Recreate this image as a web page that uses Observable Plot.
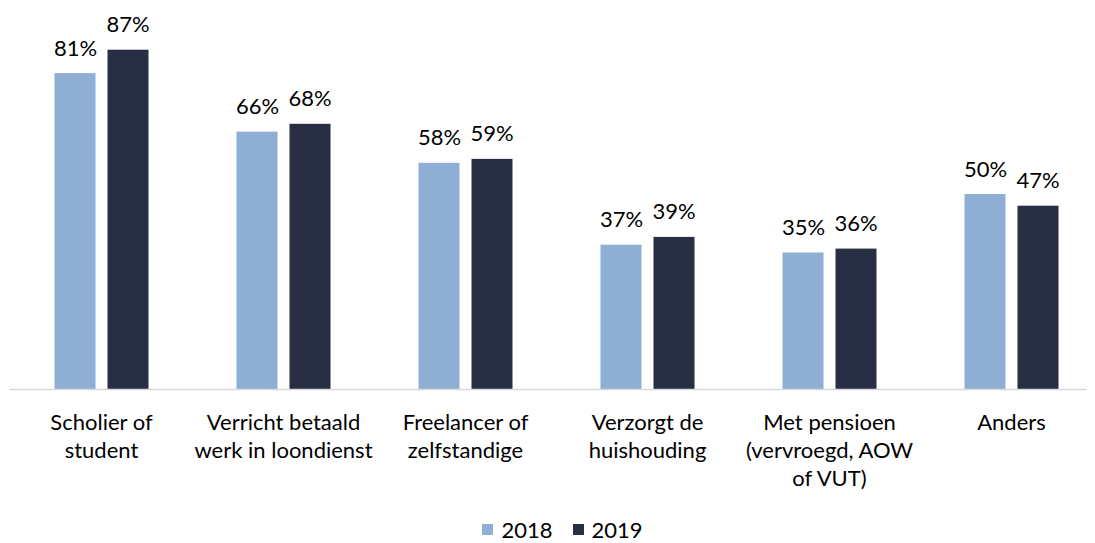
<!DOCTYPE html>
<html>
<head>
<meta charset="utf-8">
<script src="https://cdn.jsdelivr.net/npm/d3@7"></script>
<script src="https://cdn.jsdelivr.net/npm/@observablehq/plot@0.6"></script>
<style>
  html, body { margin: 0; padding: 0; background: #fff; }
  body { width: 1095px; height: 543px; overflow: hidden; font-family: Lato, "Open Sans", sans-serif; }
  #legend { position: relative; display: flex; justify-content: center; align-items: center; gap: 20px; font-size: 22px; color: #000; height: 36px; margin-left: 30px; margin-top: 3px; }
  #legend .item { display: flex; align-items: center; gap: 8px; }
  #legend .sw { width: 11px; height: 11px; display: inline-block; }
</style>
</head>
<body>
<div id="chart"></div>
<div id="legend"></div>
<script>
const categories = [
  "Scholier of\nstudent",
  "Verricht betaald\nwerk in loondienst",
  "Freelancer of\nzelfstandige",
  "Verzorgt de\nhuishouding",
  "Met pensioen\n(vervroegd, AOW\nof VUT)",
  "Anders"
];
const values2018 = [81, 66, 58, 37, 35, 50];
const values2019 = [87, 68, 59, 39, 36, 47];
const seriesNames = ["2018", "2019"];
const colors = ["#8eaed3", "#282f45"];

const data2018 = categories.map((c, i) => ({category: c, value: values2018[i]}));
const data2019 = categories.map((c, i) => ({category: c, value: values2019[i]}));

const fmt = d => d.value + "%";

const chart = Plot.plot({
  width: 1095,
  height: 508,
  marginLeft: 9,
  marginRight: 8,
  marginTop: 0,
  marginBottom: 0,
  style: {fontFamily: "Lato, 'Open Sans', sans-serif", fontSize: "22px", color: "#000", background: "#fff"},
  x: {domain: categories, range: [9.5, 1102.5], padding: 0, axis: null},
  y: {domain: [0, 100], range: [389, -1], axis: null},
  marks: [
    Plot.barY(data2018, {x: "category", y: "value", fill: colors[0], insetLeft: 44.5, insetRight: 96.5}),
    Plot.barY(data2019, {x: "category", y: "value", fill: colors[1], insetLeft: 97.5, insetRight: 43.5}),
    Plot.text(data2018, {x: "category", y: "value", text: fmt, dx: -26, dy: -25, fill: "#000", fontSize: 22}),
    Plot.text(data2019, {x: "category", y: "value", text: fmt, dx: 26.5, dy: -25, fill: "#000", fontSize: 22}),
    Plot.ruleY([0], {stroke: "#d9d9d9", strokeWidth: 1.5}),
    Plot.text(categories, {x: d => d, y: 0, text: d => d, lineAnchor: "top", dy: 21, lineHeight: 1.27, fill: "#000", fontSize: 22})
  ]
});
document.getElementById("chart").appendChild(chart);

const legend = document.getElementById("legend");
seriesNames.forEach((name, i) => {
  const item = document.createElement("div");
  item.className = "item";
  const sw = document.createElement("span");
  sw.className = "sw";
  sw.style.background = colors[i];
  const label = document.createElement("span");
  label.textContent = name;
  item.appendChild(sw);
  item.appendChild(label);
  legend.appendChild(item);
});
</script>
</body>
</html>
